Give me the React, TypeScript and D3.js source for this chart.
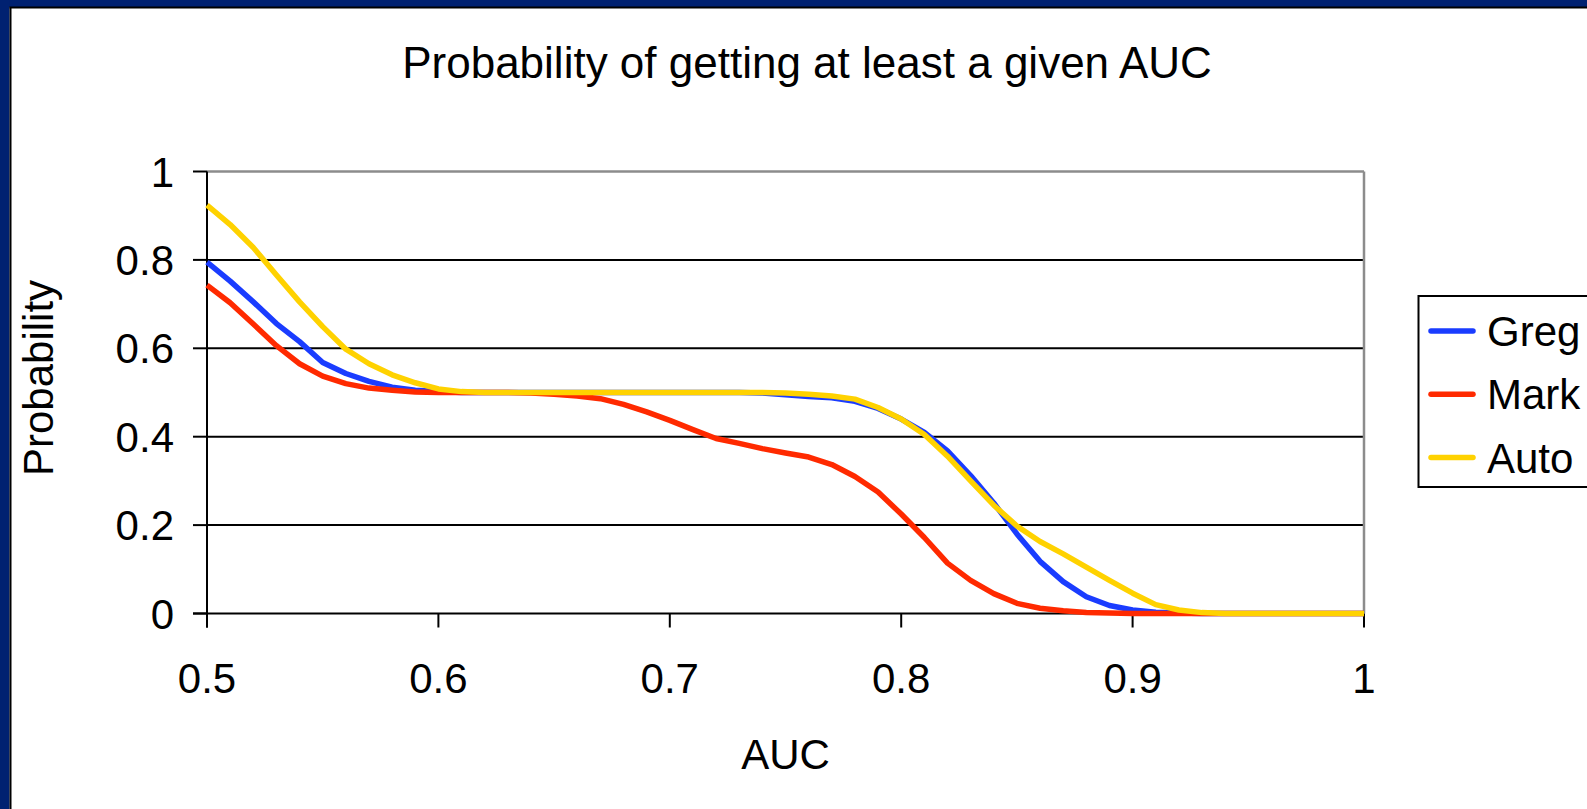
import React from "react";
import * as d3 from "d3";

// AUC thresholds on the x axis
const auc = [
  0.5, 0.51, 0.52, 0.53, 0.54, 0.55, 0.56, 0.57, 0.58, 0.59,
  0.6, 0.61, 0.62, 0.63, 0.64, 0.65, 0.66, 0.67, 0.68, 0.69,
  0.7, 0.71, 0.72, 0.73, 0.74, 0.75, 0.76, 0.77, 0.78, 0.79,
  0.8, 0.81, 0.82, 0.83, 0.84, 0.85, 0.86, 0.87, 0.88, 0.89,
  0.9, 0.91, 0.92, 0.93, 0.94, 0.95, 0.96, 0.97, 0.98, 0.99, 1.0,
];

// Probability of reaching at least each AUC
const greg = [
  0.795, 0.752, 0.705, 0.656, 0.615, 0.568, 0.543, 0.525, 0.512, 0.505,
  0.502, 0.5, 0.5, 0.5, 0.5, 0.5, 0.5, 0.5, 0.5, 0.5,
  0.5, 0.5, 0.5, 0.5, 0.499, 0.495, 0.491, 0.488, 0.48, 0.464,
  0.44, 0.41, 0.368, 0.312, 0.25, 0.18, 0.118, 0.072, 0.038, 0.018,
  0.008, 0.003, 0.001, 0, 0, 0, 0, 0, 0, 0, 0,
];

const mark = [
  0.743, 0.703, 0.655, 0.606, 0.565, 0.537, 0.52, 0.51, 0.505, 0.501,
  0.5, 0.5, 0.5, 0.5, 0.499, 0.496, 0.492, 0.486, 0.473, 0.456,
  0.437, 0.416, 0.396, 0.385, 0.373, 0.363, 0.354, 0.337, 0.31, 0.275,
  0.225, 0.172, 0.114, 0.075, 0.045, 0.023, 0.012, 0.006, 0.002, 0.001,
  0, 0, 0, 0, 0, 0, 0, 0, 0, 0, 0,
];

const autoSeries = [
  0.924, 0.88, 0.828, 0.766, 0.705, 0.649, 0.598, 0.565, 0.54, 0.522,
  0.508, 0.502, 0.5, 0.5, 0.5, 0.5, 0.5, 0.5, 0.5, 0.5,
  0.5, 0.5, 0.5, 0.5, 0.5, 0.499, 0.496, 0.492, 0.485, 0.466,
  0.44, 0.405, 0.356, 0.3, 0.245, 0.198, 0.163, 0.135, 0.105, 0.075,
  0.046, 0.02, 0.008, 0.002, 0, 0, 0, 0, 0, 0, 0,
];

const seriesNames = ["Greg", "Mark", "Auto"];
const seriesColors = ["#1a3cff", "#ff2a00", "#ffd200"];
const xTicks = [0.5, 0.6, 0.7, 0.8, 0.9, 1];
const yTicks = [0, 0.2, 0.4, 0.6, 0.8, 1];

const W = 1587;
const H = 809;
const plot = { left: 207, right: 1364, top: 171.5, bottom: 613.5 };
const FONT = "Liberation Sans, Arial, sans-serif";

export default function App() {
  const x = d3.scaleLinear().domain([0.5, 1]).range([plot.left, plot.right]);
  const y = d3.scaleLinear().domain([0, 1]).range([plot.bottom, plot.top]);
  const line = d3
    .line<number>()
    .x((_, i) => x(auc[i]))
    .y((d) => y(d));
  const allSeries = [greg, mark, autoSeries];

  return (
    <svg
      width={W}
      height={H}
      style={{ position: "absolute", left: 0, top: 0, background: "#fff", overflow: "hidden" }}
      fontFamily={FONT}
    >
      {/* slide frame */}
      <rect x={0} y={0} width={W} height={7} fill="#002171" />
      <rect x={0} y={0} width={9.5} height={H} fill="#002171" />
      <rect x={9.5} y={7} width={2} height={H} fill="#000" />
      <rect x={9.5} y={6.5} width={W} height={2} fill="#000" />

      <text x={807} y={78} textAnchor="middle" fontSize={44} fill="#000">
        Probability of getting at least a given AUC
      </text>

      {/* horizontal gridlines */}
      {yTicks
        .filter((t) => t > 0 && t < 1)
        .map((t) => (
          <line key={t} x1={plot.left} x2={plot.right} y1={y(t)} y2={y(t)} stroke="#000" strokeWidth={2} />
        ))}
      {/* plot border top & right */}
      <line x1={plot.left} x2={plot.right} y1={y(1)} y2={y(1)} stroke="#8c8c8c" strokeWidth={2.5} />
      <line x1={plot.right} x2={plot.right} y1={plot.top} y2={plot.bottom} stroke="#8c8c8c" strokeWidth={2.5} />

      {/* axes */}
      <line x1={plot.left} x2={plot.left} y1={plot.top} y2={plot.bottom + 14} stroke="#000" strokeWidth={2} />
      <line x1={plot.left - 14} x2={plot.right} y1={plot.bottom} y2={plot.bottom} stroke="#000" strokeWidth={2} />
      {yTicks.map((t) => (
        <line key={"yt" + t} x1={plot.left - 14} x2={plot.left} y1={y(t)} y2={y(t)} stroke="#000" strokeWidth={2} />
      ))}
      {xTicks.map((t) => (
        <line key={"xt" + t} x1={x(t)} x2={x(t)} y1={plot.bottom} y2={plot.bottom + 14} stroke="#000" strokeWidth={2} />
      ))}

      {yTicks.map((t) => (
        <text key={"yl" + t} x={174} y={y(t) + 15} textAnchor="end" fontSize={42} fill="#000">
          {String(t)}
        </text>
      ))}
      {xTicks.map((t) => (
        <text key={"xl" + t} x={x(t)} y={693} textAnchor="middle" fontSize={42} fill="#000">
          {String(t)}
        </text>
      ))}

      <text x={(plot.left + plot.right) / 2} y={769} textAnchor="middle" fontSize={42} fill="#000">
        AUC
      </text>
      <text transform="translate(53,378) rotate(-90)" textAnchor="middle" fontSize={42} fill="#000">
        Probability
      </text>

      {/* series */}
      {allSeries.map((s, i) => (
        <path
          key={seriesNames[i]}
          d={line(s) || ""}
          fill="none"
          stroke={seriesColors[i]}
          strokeWidth={5.5}
          strokeLinejoin="round"
        />
      ))}

      {/* legend */}
      <rect x={1418.5} y={296} width={200} height={191} fill="#fff" stroke="#000" strokeWidth={2} />
      {seriesNames.map((n, i) => (
        <g key={"lg" + n}>
          <line
            x1={1431}
            x2={1473}
            y1={331 + i * 63.3}
            y2={331 + i * 63.3}
            stroke={seriesColors[i]}
            strokeWidth={5.5}
            strokeLinecap="round"
          />
          <text x={1487} y={331 + i * 63.3 + 15} fontSize={42} fill="#000">
            {n}
          </text>
        </g>
      ))}
    </svg>
  );
}
